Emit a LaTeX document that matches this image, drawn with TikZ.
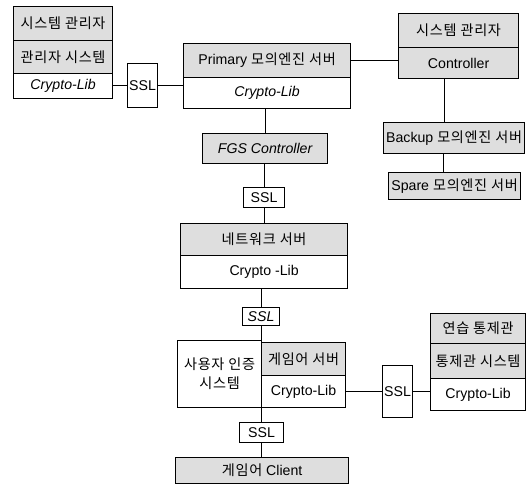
\documentclass[tikz,border=0pt]{standalone}
\usepackage{fontspec}
\setmainfont{Liberation Sans}
\newfontfamily\kr[LetterSpace=5]{Noto Sans CJK KR}
\begin{document}
\begin{tikzpicture}[x=1bp,y=-1bp,
  cell/.style={draw, line width=1.2bp, inner sep=0pt, anchor=north west, align=center,
    font=\fontsize{14.2}{17}\selectfont},
  gcell/.style={cell, fill=black!13},
  wcell/.style={cell, fill=white},
  conn/.style={draw, line width=1.2bp}]
\fill[white] (0,0) rectangle (529,489);
\useasboundingbox (0,0) rectangle (529,489);
% top-left block
\node[gcell, minimum width=99bp, minimum height=34bp] (tl1) at (13,6) {\kr 시스템 관리자};
\node[gcell, minimum width=99bp, minimum height=33bp] (tl2) at (13,40) {\kr 관리자 시스템};
\node[wcell, minimum width=99bp, minimum height=25bp] (tl3) at (13,73) {\itshape Crypto-Lib};
\node[wcell, minimum width=30bp, minimum height=44bp] (ssl1) at (127,63) {SSL};
% primary
\node[gcell, minimum width=167bp, minimum height=34bp] (p1) at (183,43) {Primary {\kr 모의엔진 서버}};
\node[wcell, minimum width=167bp, minimum height=31bp] (p2) at (183,77) {\itshape Crypto-Lib};
% top-right
\node[gcell, minimum width=120bp, minimum height=34bp] (tr1) at (398,13) {\kr 시스템 관리자};
\node[gcell, minimum width=120bp, minimum height=31bp] (tr2) at (398,47) {Controller};
\node[gcell, minimum width=141bp, minimum height=31bp] (backup) at (383,122) {Backup {\kr 모의엔진 서버}};
\node[gcell, minimum width=132bp, minimum height=27bp] (spare) at (388,172) {Spare {\kr 모의엔진 서버}};
% FGS
\node[gcell, minimum width=125bp, minimum height=30bp] (fgs) at (202,133) {\itshape FGS Controller};
\node[wcell, minimum width=41bp, minimum height=20bp] (ssl2) at (243,187) {SSL};
% network
\node[gcell, minimum width=167bp, minimum height=32bp] (n1) at (180,223) {\kr 네트워크 서버};
\node[wcell, minimum width=167bp, minimum height=33bp] (n2) at (180,255) {Crypto -Lib};
\node[wcell, minimum width=37bp, minimum height=18bp] (ssl3) at (242,307) {\itshape SSL};
% user / game
\node[wcell, minimum width=84bp, minimum height=67bp] (user) at (177,340) {\kr 사용자 인증\\[2bp]\kr 시스템};
\node[gcell, minimum width=84bp, minimum height=33bp] (g1) at (261,342) {\kr 게임어 서버};
\node[wcell, minimum width=84bp, minimum height=32bp] (g2) at (261,375) {Crypto-Lib};
\node[wcell, minimum width=30bp, minimum height=52bp] (ssl4) at (382,365) {SSL};
% right
\node[gcell, minimum width=95bp, minimum height=30bp] (r1) at (430,313) {\kr 연습 통제관};
\node[gcell, minimum width=95bp, minimum height=35bp] (r2) at (430,343) {\kr 통제관 시스템};
\node[wcell, minimum width=95bp, minimum height=32bp] (r3) at (430,378) {Crypto-Lib};
% bottom
\node[wcell, minimum width=44bp, minimum height=20bp] (ssl5) at (239,422) {SSL};
\node[gcell, minimum width=173bp, minimum height=26bp] (client) at (175,457) {{\kr 게임어} Client};
% connectors
\path[conn] (tl3.east |- ssl1.west) -- (ssl1.west);
\path[conn] (ssl1.east) -- (ssl1.east -| p2.west);
\path[conn] (p1.east) -- (p1.east -| tr2.west);
\path[conn] (fgs.north |- p2.south) -- (fgs.north);
\path[conn] (ssl2.north |- fgs.south) -- (ssl2.north);
\path[conn] (ssl2.south) -- (ssl2.south |- n1.north);
\path[conn] (ssl3.north |- n2.south) -- (ssl3.north);
\path[conn] (ssl3.south) -- (ssl3.south |- user.north);
\path[conn] ([xshift=-14bp]tr2.south) -- ([xshift=-14bp]tr2.south |- backup.north);
\path[conn] ([xshift=-11bp]spare.north |- backup.south) -- ([xshift=-11bp]spare.north);
\path[conn] (g2.east) -- (ssl4.west |- g2.east);
\path[conn] (ssl4.east |- g2.east) -- (r3.west |- g2.east);
\path[conn] (ssl5.north |- user.south) -- (ssl5.north);
\path[conn] (ssl5.south) -- (ssl5.south |- client.north);
\end{tikzpicture}
\end{document}
